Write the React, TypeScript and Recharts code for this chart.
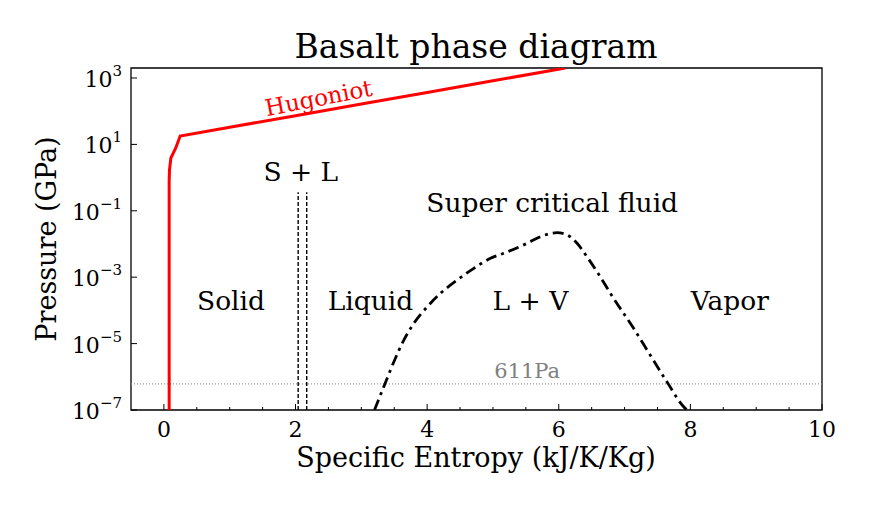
import React from 'react'
import {
  ComposedChart,
  Line,
  XAxis,
  YAxis,
  ReferenceLine,
  ReferenceArea,
  ReferenceDot
} from 'recharts'

// entropy (kJ/K/Kg) vs pressure (GPa)
const hugoniot = [
  { s: 0.08, p: 1e-7 },
  { s: 0.08, p: 0.8 },
  { s: 0.085, p: 1.7 },
  { s: 0.106, p: 3.9 },
  { s: 0.18, p: 7.8 },
  { s: 0.247, p: 17.9 },
  { s: 1, p: 33 },
  { s: 2, p: 73 },
  { s: 3, p: 164 },
  { s: 4, p: 368 },
  { s: 5, p: 824 },
  { s: 6.1, p: 2000 }
]

const solidus = [
  { s: 2.04, p: 1e-7 },
  { s: 2.04, p: 0.36 }
]

const liquidus = [
  { s: 2.17, p: 1e-7 },
  { s: 2.17, p: 0.36 }
]

const vaporDome = [
  { s: 3.2, p: 1e-7 },
  { s: 3.37, p: 7e-7 },
  { s: 3.495, p: 2.85e-6 },
  { s: 3.646, p: 1.28e-5 },
  { s: 3.798, p: 4.1e-5 },
  { s: 4.002, p: 1.29e-4 },
  { s: 4.203, p: 3.27e-4 },
  { s: 4.457, p: 8.2e-4 },
  { s: 4.709, p: 1.85e-3 },
  { s: 4.962, p: 3.7e-3 },
  { s: 5.164, p: 5.25e-3 },
  { s: 5.519, p: 0.0105 },
  { s: 5.721, p: 0.0166 },
  { s: 5.974, p: 0.0219 },
  { s: 6.126, p: 0.0187 },
  { s: 6.278, p: 0.0105 },
  { s: 6.43, p: 4.1e-3 },
  { s: 6.581, p: 1.47e-3 },
  { s: 6.833, p: 2.31e-4 },
  { s: 7.137, p: 2.9e-5 },
  { s: 7.39, p: 4.5e-6 },
  { s: 7.643, p: 7.1e-7 },
  { s: 7.921, p: 1.12e-7 },
  { s: 7.95, p: 1e-7 }
]

const triplePoint = 6.11e-7 // 611 Pa in GPa

const regionLabels = [
  { s: 1.02, p: 1.92e-4, text: 'Solid' },
  { s: 3.14, p: 1.92e-4, text: 'Liquid' },
  { s: 5.57, p: 1.92e-4, text: 'L + V' },
  { s: 8.6, p: 1.92e-4, text: 'Vapor' },
  { s: 5.9, p: 0.184, text: 'Super critical fluid' },
  { s: 2.08, p: 1.48, text: 'S + L' }
]

const xTicks = [0, 0.5, 1, 1.5, 2, 2.5, 3, 3.5, 4, 4.5, 5, 5.5, 6, 6.5, 7, 7.5, 8, 8.5, 9, 9.5, 10]
const yTicks = [1e-7, 1e-5, 1e-3, 1e-1, 1e1, 1e3]

const font = '"DejaVu Serif", serif'

const XTick = (props: any) => {
  const { x, y, payload } = props
  const major = payload.value % 2 === 0
  return (
    <g>
      <line x1={x} x2={x} y1={y} y2={y - (major ? 6 : 3)} stroke="#000" strokeWidth={1} />
      {major && (
        <text x={x} y={y + 27} textAnchor="middle" fontFamily={font} fontSize={22} fill="#000">
          {payload.value}
        </text>
      )}
    </g>
  )
}

const YTick = (props: any) => {
  const { x, y, payload } = props
  const exp = Math.round(Math.log10(payload.value))
  const expText = exp < 0 ? '\u2212' + Math.abs(exp) : String(exp)
  return (
    <g>
      <line x1={x} x2={x + 6} y1={y} y2={y} stroke="#000" strokeWidth={1} />
      <text x={x - 9} y={y + 9} textAnchor="end" fontFamily={font} fontSize={22} fill="#000">
        <tspan>10</tspan>
        <tspan dy={-11} fontSize={15}>{expText}</tspan>
      </text>
    </g>
  )
}

const textAt = (text: string, size: number, color: string, angle = 0) => (d: any) => (
  <text
    x={d.cx}
    y={d.cy}
    textAnchor="middle"
    dominantBaseline="central"
    fontFamily={font}
    fontSize={size}
    fill={color}
    transform={angle ? `rotate(${angle} ${d.cx} ${d.cy})` : undefined}
  >
    {text}
  </text>
)

export default function App() {
  return (
    <div style={{ width: 871, height: 508, background: '#fff' }}>
      <style>{'body{margin:0}'}</style>
      <ComposedChart width={871} height={508} margin={{ top: 68, right: 49, left: 0, bottom: 0 }}>
        <text x={476} y={58} textAnchor="middle" fontFamily={font} fontSize={33} fill="#000">
          Basalt phase diagram
        </text>
        <text x={476} y={467} textAnchor="middle" fontFamily={font} fontSize={27} fill="#000">
          Specific Entropy (kJ/K/Kg)
        </text>
        <text x={56} y={239} textAnchor="middle" fontFamily={font} fontSize={27} fill="#000" transform="rotate(-90 56 239)">
          Pressure (GPa)
        </text>
        <XAxis
          type="number"
          dataKey="s"
          domain={[-0.5, 10]}
          ticks={xTicks}
          interval={0}
          height={98}
          tickSize={0}
          tickMargin={0}
          axisLine={false}
          tickLine={false}
          tick={<XTick />}
          allowDataOverflow
        />
        <YAxis
          type="number"
          dataKey="p"
          scale="log"
          domain={[1e-7, 2000]}
          ticks={yTicks}
          interval={0}
          width={131}
          tickSize={0}
          tickMargin={0}
          axisLine={false}
          tickLine={false}
          tick={<YTick />}
          allowDataOverflow
        />
        <ReferenceLine y={triplePoint} stroke="#808080" strokeWidth={1} strokeDasharray="1 2" />
        <Line data={solidus} dataKey="p" type="linear" stroke="#000" strokeWidth={1.4} strokeDasharray="4 2" dot={false} isAnimationActive={false} />
        <Line data={liquidus} dataKey="p" type="linear" stroke="#000" strokeWidth={1.4} strokeDasharray="4 2" dot={false} isAnimationActive={false} />
        <Line data={vaporDome} dataKey="p" type="monotone" stroke="#000" strokeWidth={2.8} strokeDasharray="11 5 3 5" dot={false} isAnimationActive={false} />
        <Line data={hugoniot} dataKey="p" type="linear" stroke="#ff0000" strokeWidth={3} dot={false} isAnimationActive={false} />
        {regionLabels.map((r) => (
          <ReferenceDot key={r.text} x={r.s} y={r.p} r={0} shape={textAt(r.text, 26.5, '#000')} />
        ))}
        <ReferenceDot x={5.52} y={1.5e-6} r={0} shape={textAt('611Pa', 21, '#808080')} />
        <ReferenceDot x={2.35} y={251} r={0} shape={textAt('Hugoniot', 23, '#ff0000', -11)} />
        <ReferenceArea x1={-0.5} x2={10} y1={1e-7} y2={2000} fill="none" stroke="#000" strokeWidth={1.3} ifOverflow="visible" />
      </ComposedChart>
    </div>
  )
}
